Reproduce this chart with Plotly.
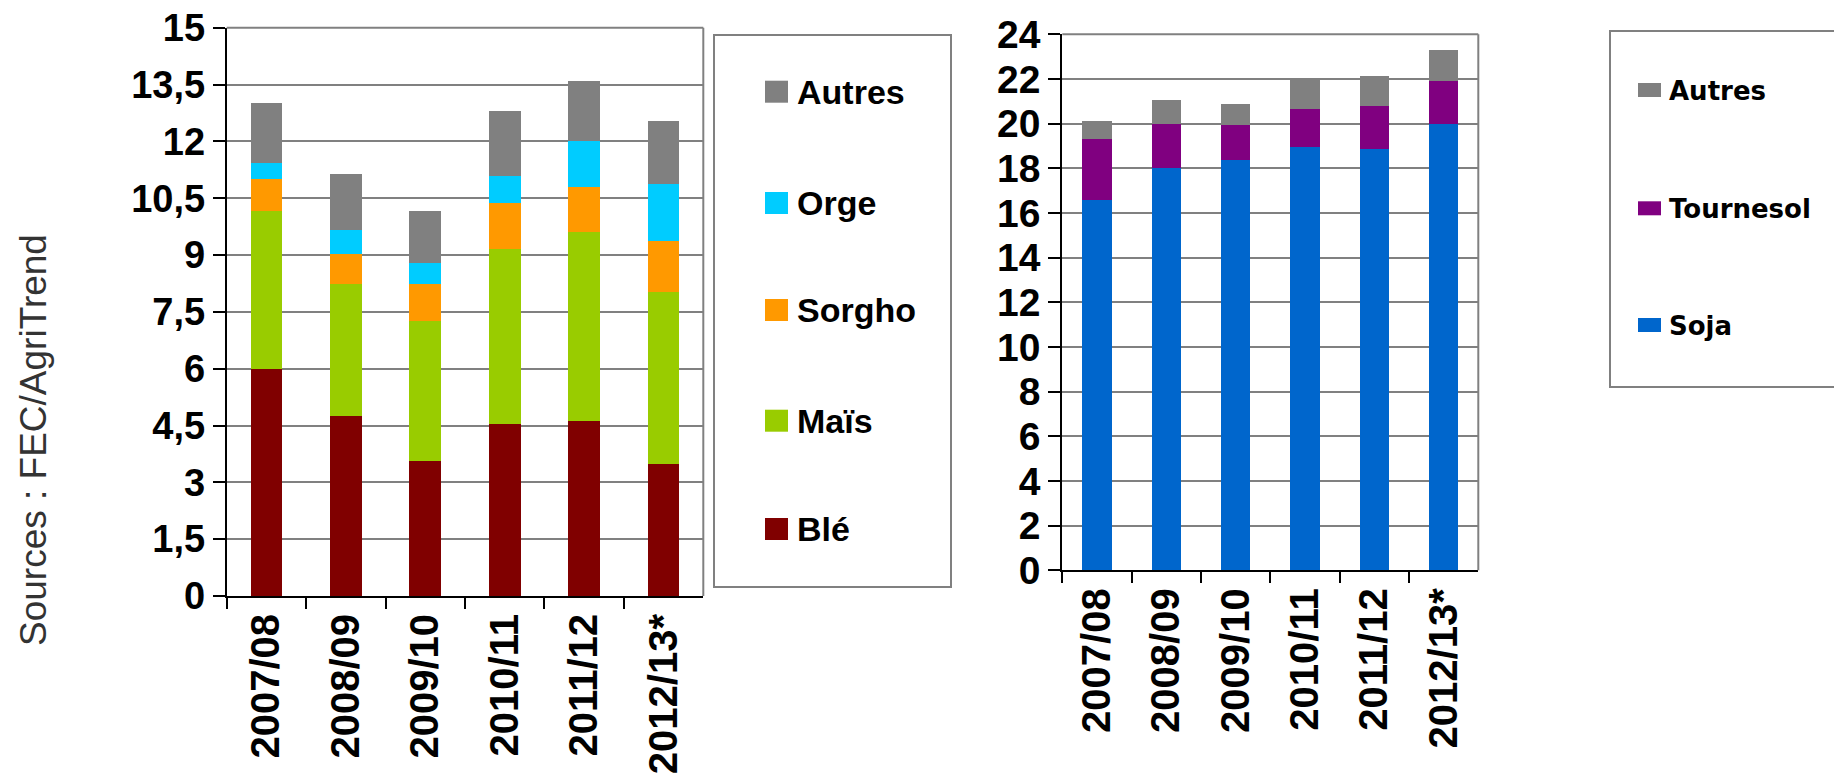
import plotly.graph_objects as go

# ---------------- data ----------------
seasons = ["2007/08", "2008/09", "2009/10", "2010/11", "2011/12", "2012/13*"]

# Céréales (left chart), stacked bottom -> top
ble = [6.0, 4.76, 3.56, 4.55, 4.62, 3.48]
mais = [4.16, 3.47, 3.70, 4.61, 4.99, 4.55]
sorgho = [0.84, 0.79, 0.97, 1.21, 1.18, 1.34]
orge = [0.42, 0.64, 0.55, 0.72, 1.21, 1.50]
autres_cereales = [1.58, 1.49, 1.38, 1.71, 1.59, 1.66]

# Oléagineux (right chart), stacked bottom -> top
soja = [16.6, 18.0, 18.35, 18.95, 18.85, 20.0]
tournesol = [2.7, 2.0, 1.6, 1.7, 1.95, 1.9]
autres_oleagineux = [0.8, 1.05, 0.95, 1.35, 1.35, 1.4]

left_names = ["Blé", "Maïs", "Sorgho", "Orge", "Autres"]
left_colors = ["#800000", "#99CC00", "#FF9900", "#00CCFF", "#808080"]
right_names = ["Soja", "Tournesol", "Autres"]
right_colors = ["#0066CC", "#800080", "#808080"]

left_tickvals = [0, 1.5, 3, 4.5, 6, 7.5, 9, 10.5, 12, 13.5, 15]
left_ticktext = ["0", "1,5", "3", "4,5", "6", "7,5", "9", "10,5", "12", "13,5", "15"]
right_tickvals = [0, 2, 4, 6, 8, 10, 12, 14, 16, 18, 20, 22, 24]
right_ticktext = [str(v) for v in right_tickvals]

source_text = "Sources : FEC/AgriTrend"

# ---------------- layout geometry (pixels) ----------------
W, H = 1834, 777
FONT = "Liberation Sans, Arial, sans-serif"


def fx(x):
    return x / W


def fy(y):
    return 1 - y / H


L = dict(x0=226.7, x1=703.3, yt=27.7, yb=596.0)
R = dict(x0=1062.3, x1=1478.3, yt=34.3, yb=570.3)

fig = go.Figure()

left_series = [ble, mais, sorgho, orge, autres_cereales]
for name, col, vals in zip(left_names, left_colors, left_series):
    fig.add_trace(go.Bar(x=seasons, y=vals, name=name, marker=dict(color=col, line=dict(width=0)),
                         width=0.40, xaxis="x", yaxis="y", showlegend=False))

right_series = [soja, tournesol, autres_oleagineux]
for name, col, vals in zip(right_names, right_colors, right_series):
    fig.add_trace(go.Bar(x=seasons, y=vals, name=name, marker=dict(color=col, line=dict(width=0)),
                         width=0.42, xaxis="x2", yaxis="y2", showlegend=False))

GRID = "#808080"


def xaxis_cfg(g, size):
    return dict(domain=[fx(g["x0"]), fx(g["x1"])], type="category", range=[-0.5, 5.5],
                showline=True, linecolor="black", linewidth=2,
                ticks="outside", ticklen=11, tickwidth=2, tickcolor="black",
                tickson="boundaries", tickangle=-90, showgrid=False, zeroline=False,
                tickfont=dict(family=FONT, size=size, color="black", weight="bold"),
                automargin=False, fixedrange=True)


def yaxis_cfg(g, rng, tv, tt, size):
    return dict(domain=[fy(g["yb"]), fy(g["yt"])], range=rng, tickvals=tv, ticktext=tt,
                showline=True, linecolor="black", linewidth=2,
                ticks="outside", ticklen=12, tickwidth=2, tickcolor="black",
                showgrid=True, gridcolor=GRID, gridwidth=2, zeroline=False,
                tickfont=dict(family=FONT, size=size, color="black", weight="bold"),
                automargin=False, fixedrange=True)


shapes = []
annotations = []
for g in (L, R):
    shapes.append(dict(type="line", xref="paper", yref="paper", x0=fx(g["x0"]), x1=fx(g["x1"]),
                       y0=fy(g["yt"]), y1=fy(g["yt"]), line=dict(color=GRID, width=2)))
    shapes.append(dict(type="line", xref="paper", yref="paper", x0=fx(g["x1"]), x1=fx(g["x1"]),
                       y0=fy(g["yt"]), y1=fy(g["yb"]), line=dict(color=GRID, width=2)))

# legend boxes
shapes.append(dict(type="rect", xref="paper", yref="paper", x0=fx(714), x1=fx(951), y0=fy(587), y1=fy(35),
                   line=dict(color=GRID, width=2), fillcolor="rgba(0,0,0,0)"))
shapes.append(dict(type="rect", xref="paper", yref="paper", x0=fx(1610), x1=fx(1845), y0=fy(387), y1=fy(31),
                   line=dict(color=GRID, width=2), fillcolor="rgba(0,0,0,0)"))

# left legend entries
left_leg_y = [529, 420.7, 310, 203, 91.7]
for name, col, yc in zip(left_names, left_colors, left_leg_y):
    shapes.append(dict(type="rect", xref="paper", yref="paper", x0=fx(765), x1=fx(788),
                       y0=fy(yc + 11), y1=fy(yc - 11), line=dict(width=0), fillcolor=col))
    annotations.append(dict(xref="paper", yref="paper", x=fx(795), y=fy(yc), text=name, showarrow=False,
                            xanchor="left", yanchor="middle",
                            font=dict(family=FONT, size=34, color="black", weight="bold")))

right_leg_y = [325, 208.3, 90]
for name, col, yc in zip(right_names, right_colors, right_leg_y):
    shapes.append(dict(type="rect", xref="paper", yref="paper", x0=fx(1638), x1=fx(1661),
                       y0=fy(yc + 7), y1=fy(yc - 7), line=dict(width=0), fillcolor=col))
    annotations.append(dict(xref="paper", yref="paper", x=fx(1667), y=fy(yc + 1), text=name, showarrow=False,
                            xanchor="left", yanchor="middle",
                            font=dict(family="DejaVu Sans, sans-serif", size=26, color="black", weight="bold")))

annotations.append(dict(xref="paper", yref="paper", x=fx(33), y=fy(440), text=source_text, showarrow=False,
                        textangle=-90, xanchor="center", yanchor="middle",
                        font=dict(family=FONT, size=37, color="#333333")))

fig.update_layout(
    width=W, height=H, autosize=False,
    margin=dict(l=0, r=0, t=0, b=0),
    paper_bgcolor="white", plot_bgcolor="white",
    barmode="stack", showlegend=False,
    xaxis=dict(anchor="y", **xaxis_cfg(L, 40)),
    yaxis=dict(anchor="x", **yaxis_cfg(L, [0, 15], left_tickvals, left_ticktext, 38)),
    xaxis2=dict(anchor="y2", **xaxis_cfg(R, 40)),
    yaxis2=dict(anchor="x2", **yaxis_cfg(R, [0, 24], right_tickvals, right_ticktext, 39)),
    shapes=shapes, annotations=annotations,
)

fig.write_html("out.html", config={"displayModeBar": False},
               post_script="document.body.style.margin='0';document.body.style.overflow='hidden';")
